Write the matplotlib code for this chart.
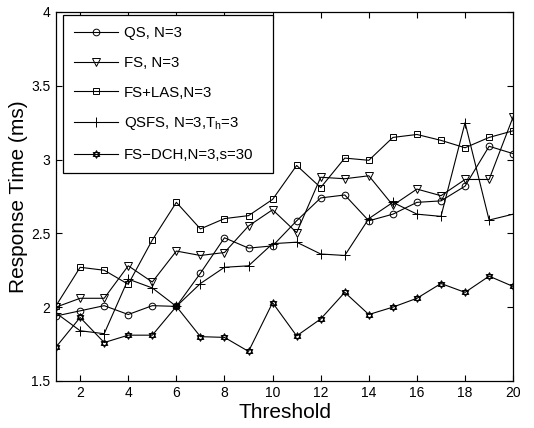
import matplotlib
matplotlib.use("Agg")
import matplotlib.pyplot as plt
from matplotlib.path import Path
import numpy as np

plt.rcParams['font.family'] = ['Liberation Sans', 'DejaVu Sans']
plt.rcParams['mathtext.default'] = 'regular'

threshold = list(range(1, 21))
qs = [1.94, 1.975, 2.01, 1.95, 2.01, 2.005, 2.23, 2.47, 2.40, 2.415,
      2.585, 2.74, 2.76, 2.585, 2.63, 2.71, 2.72, 2.82, 3.09, 3.04]
fs = [2.00, 2.06, 2.06, 2.28, 2.17, 2.38, 2.35, 2.37, 2.55, 2.66,
      2.505, 2.88, 2.87, 2.89, 2.69, 2.80, 2.755, 2.865, 2.865, 3.29]
fs_las = [2.01, 2.27, 2.25, 2.155, 2.455, 2.71, 2.53, 2.60, 2.62, 2.73,
          2.96, 2.81, 3.01, 2.995, 3.15, 3.17, 3.13, 3.08, 3.15, 3.195]
qsfs = [1.96, 1.84, 1.82, 2.19, 2.13, 2.005, 2.16, 2.27, 2.28, 2.43,
        2.44, 2.36, 2.35, 2.60, 2.71, 2.63, 2.615, 3.25, 2.59, 2.63]
fs_dch = [1.73, 1.93, 1.76, 1.81, 1.81, 2.005, 1.80, 1.795, 1.70, 2.03,
          1.805, 1.92, 2.10, 1.95, 2.00, 2.06, 2.16, 2.10, 2.21, 2.14]

labels = ['QS, N=3', 'FS, N=3', 'FS+LAS,N=3', 'QSFS, N=3,T$_h$=3', 'FS\u2212DCH,N=3,s=30']

# hexagram marker (two overlapping triangles)
t = np.array([90, 210, 330]) * np.pi / 180
up = np.column_stack([np.cos(t), np.sin(t)])
dn = -up
verts = np.vstack([up, up[:1], dn, dn[:1]])
codes = [Path.MOVETO, Path.LINETO, Path.LINETO, Path.CLOSEPOLY] * 2
hexagram = Path(verts, codes)

fig = plt.figure(figsize=(5.34, 4.28), dpi=100)
ax = fig.add_axes([0.105, 0.110, 0.856, 0.862])

style = dict(color='black', linewidth=0.8, markerfacecolor='none',
             markeredgecolor='black', markeredgewidth=0.7)
ax.plot(threshold, qs, marker='o', markersize=4.8, label=labels[0], **style)
ax.plot(threshold, fs, marker='v', markersize=5.8, label=labels[1], **style)
ax.plot(threshold, fs_las, marker='s', markersize=4.5, label=labels[2], **style)
ax.plot(threshold, qsfs, marker='+', markersize=6.5, label=labels[3], **style)
ax.plot(threshold, fs_dch, marker=hexagram, markersize=5.5, label=labels[4], **style)

ax.set_xlim(1, 20)
ax.set_ylim(1.5, 4)
ax.set_xticks(range(2, 21, 2))
ax.set_yticks([1.5, 2, 2.5, 3, 3.5, 4])
ax.set_yticklabels(['1.5', '2', '2.5', '3', '3.5', '4'])
ax.tick_params(direction='in', top=True, right=True, labelsize=10,
               length=4, width=0.8, pad=4)
for s in ax.spines.values():
    s.set_linewidth(0.9)
ax.set_xlabel('Threshold', fontsize=15, labelpad=2)
ax.set_ylabel('Response Time (ms)', fontsize=15, labelpad=2)

leg = ax.legend(loc='upper left', bbox_to_anchor=(0.0153, 0.992, 0.46, 0.0),
                mode='expand', fontsize=10.8,
                frameon=True, fancybox=False, edgecolor='black', framealpha=1,
                handlelength=2.9, handletextpad=0.4, labelspacing=1.05,
                borderpad=0.75, borderaxespad=0)
leg.get_frame().set_linewidth(0.9)

fig.savefig('out.png', dpi=100)
